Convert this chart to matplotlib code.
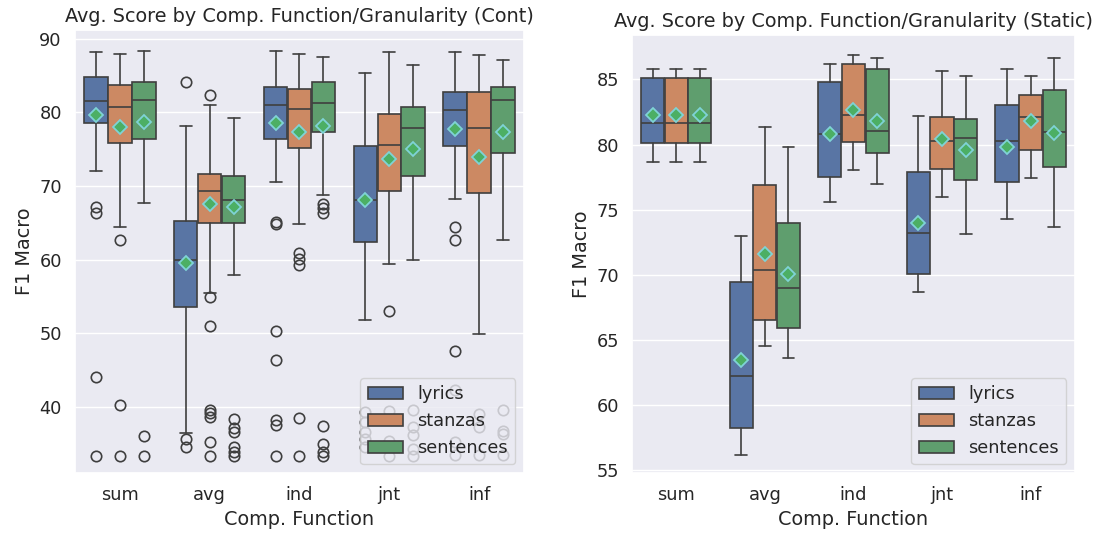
import matplotlib
matplotlib.use("Agg")
import matplotlib.pyplot as plt
import seaborn as sns
from matplotlib.patches import Patch

sns.set_theme(style="darkgrid")

functions = ["sum", "avg", "ind", "jnt", "inf"]
granularity = ["lyrics", "stanzas", "sentences"]

# --- Cont: per granularity (rows) x comp. function (cols) ---
cont_whislo = [[72.1, 36.4, 70.5, 51.8, 68.3],
               [64.4, 55.4, 64.9, 59.4, 49.9],
               [67.7, 57.9, 68.8, 60.0, 62.7]]
cont_q1 = [[78.6, 53.5, 76.4, 62.4, 75.4],
           [75.9, 65.0, 75.2, 69.3, 69.1],
           [76.4, 65.0, 77.4, 71.4, 74.5]]
cont_med = [[81.6, 60.0, 81.0, 68.1, 80.3],
            [80.7, 69.3, 80.5, 75.6, 77.9],
            [81.7, 68.1, 81.3, 77.9, 81.7]]
cont_q3 = [[84.8, 65.3, 83.4, 75.4, 82.8],
           [83.7, 71.6, 83.2, 79.8, 82.8],
           [84.1, 71.4, 84.1, 80.8, 83.5]]
cont_whishi = [[88.2, 78.2, 88.4, 85.3, 88.2],
               [87.9, 81.0, 88.0, 88.2, 87.8],
               [88.4, 79.3, 87.5, 86.4, 87.1]]
cont_mean = [[79.7, 59.6, 78.6, 68.1, 77.7],
             [78.0, 67.6, 77.3, 73.7, 74.0],
             [78.7, 67.2, 78.2, 75.1, 77.3]]
cont_fliers = [
    [[67.2, 66.3, 44.1, 33.3], [84.1, 35.6, 34.5],
     [65.1, 64.9, 50.3, 46.3, 38.2, 37.5, 33.3],
     [39.3, 37.9, 36.6, 35.6, 34.5], [64.4, 62.6, 47.6, 42.3, 35.2, 33.4]],
    [[62.6, 40.3, 33.3], [82.4, 54.9, 51.0, 39.6, 39.2, 38.6, 35.2, 33.3],
     [60.9, 60.1, 59.3, 38.5, 33.3], [53.0, 39.4, 35.4, 33.3],
     [39.0, 37.3, 33.4]],
    [[36.0, 33.3], [38.3, 37.1, 36.6, 34.6, 33.9, 33.3],
     [67.6, 67.0, 66.3, 37.4, 35.0, 33.9, 33.3],
     [39.6, 37.2, 36.1, 34.2, 33.3], [39.5, 36.7, 36.3, 33.4]],
]

# --- Static ---
static_whislo = [[78.67, 56.16, 75.60, 68.70, 74.31],
                 [78.67, 64.57, 78.04, 75.97, 77.45],
                 [78.67, 63.63, 76.94, 73.17, 73.70]]
static_q1 = [[80.08, 58.25, 77.53, 70.08, 77.12],
             [80.08, 66.56, 80.18, 78.14, 79.57],
             [80.08, 65.90, 79.36, 77.25, 78.26]]
static_med = [[81.66, 62.27, 80.77, 73.24, 80.25],
              [81.66, 70.38, 82.24, 80.25, 82.12],
              [81.66, 68.96, 81.07, 80.51, 80.94]]
static_q3 = [[85.07, 69.47, 84.80, 77.88, 83.00],
             [85.07, 76.86, 86.20, 82.09, 83.83],
             [85.07, 74.00, 85.79, 81.99, 84.21]]
static_whishi = [[85.80, 72.96, 86.17, 82.17, 85.79],
                 [85.80, 81.33, 86.86, 85.61, 85.23],
                 [85.80, 79.82, 86.63, 85.23, 86.63]]
static_mean = [[82.24, 63.50, 80.77, 73.96, 79.82],
               [82.24, 71.58, 82.62, 80.43, 81.78],
               [82.24, 70.08, 81.84, 79.57, 80.90]]
static_fliers = [[[] for _ in functions] for _ in granularity]

palette = [sns.desaturate(c, 0.75) for c in sns.color_palette("deep", 3)]
line_col = "#3f3f3f"
box_w = 0.8 / 3
lw = 1.2


def draw_panel(ax, whislo, q1, med, q3, whishi, mean, fliers, title):
    for h, name in enumerate(granularity):
        stats = []
        for i in range(len(functions)):
            stats.append(dict(whislo=whislo[h][i], q1=q1[h][i], med=med[h][i],
                              q3=q3[h][i], whishi=whishi[h][i], mean=mean[h][i],
                              fliers=fliers[h][i]))
        pos = [i + (h - 1) * box_w for i in range(len(functions))]
        ax.bxp(stats, positions=pos, widths=box_w * 0.98, capwidths=box_w * 0.5,
               patch_artist=True, showmeans=True, manage_ticks=False,
               boxprops=dict(facecolor=palette[h], edgecolor=line_col, linewidth=lw),
               medianprops=dict(color=line_col, linewidth=lw),
               whiskerprops=dict(color=line_col, linewidth=lw),
               capprops=dict(color=line_col, linewidth=lw),
               flierprops=dict(marker="o", markerfacecolor="none",
                               markeredgecolor=line_col, markersize=7.5,
                               markeredgewidth=lw),
               meanprops=dict(marker="D", markerfacecolor="#4caf64",
                              markeredgecolor="#7fd3d6", markersize=7.5,
                              markeredgewidth=1.3))
    ax.set_xticks(range(len(functions)))
    ax.set_xticklabels(functions)
    ax.set_xlim(-0.5, len(functions) - 0.5)
    ax.xaxis.grid(False)
    ax.set_xlabel("Comp. Function", fontsize=13.9)
    ax.set_ylabel("F1 Macro", fontsize=13.9)
    ax.set_title(title, fontsize=13.9)
    ax.tick_params(labelsize=12.8)
    handles = [Patch(facecolor=palette[h], edgecolor=line_col, linewidth=lw,
                     label=g) for h, g in enumerate(granularity)]
    ax.legend(handles=handles, loc="lower right", fontsize=12.8)


fig = plt.figure(figsize=(10.93, 5.39), dpi=100)
ax1 = fig.add_axes([0.0686, 0.1224, 0.4108, 0.8219])
ax2 = fig.add_axes([0.5782, 0.1224, 0.4053, 0.8126])

draw_panel(ax1, cont_whislo, cont_q1, cont_med, cont_q3, cont_whishi,
           cont_mean, cont_fliers,
           "Avg. Score by Comp. Function/Granularity (Cont)")
ax1.set_ylim(31.0, 91.2)

draw_panel(ax2, static_whislo, static_q1, static_med, static_q3, static_whishi,
           static_mean, static_fliers,
           "Avg. Score by Comp. Function/Granularity (Static)")
ax2.set_ylim(54.8, 88.4)
ax2.set_yticks([55, 60, 65, 70, 75, 80, 85])

fig.savefig("out.png", dpi=100)
